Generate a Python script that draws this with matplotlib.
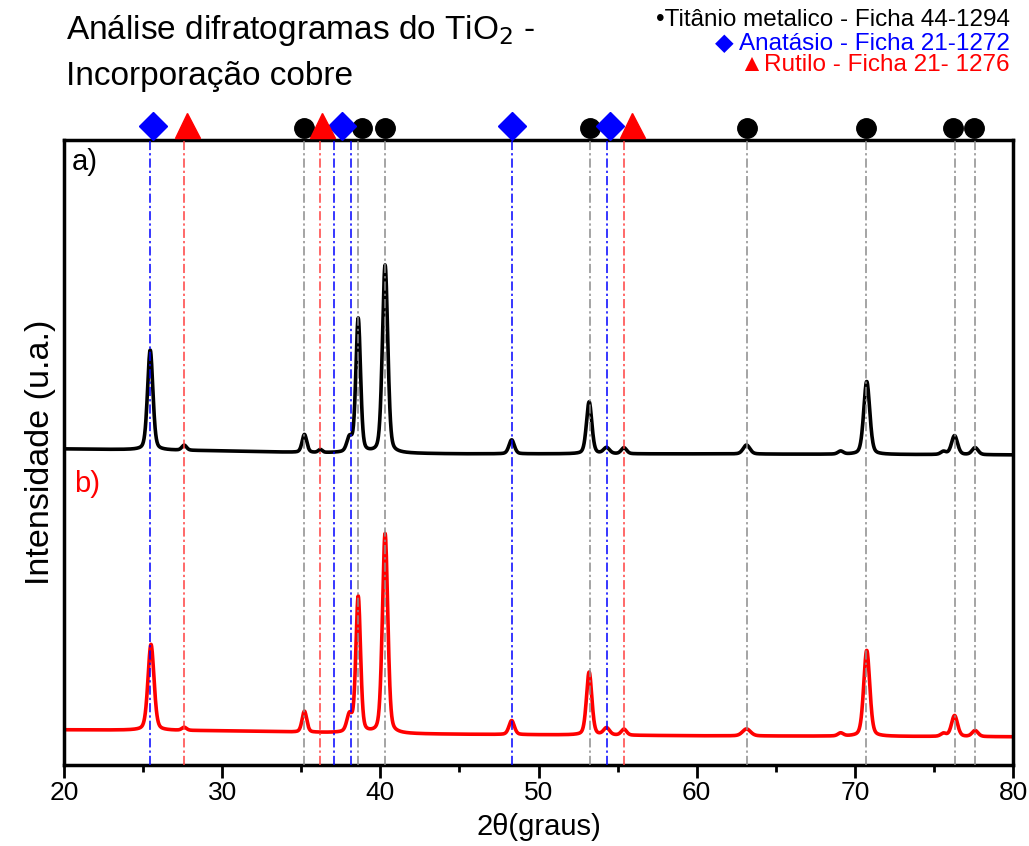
import numpy as np
import matplotlib
matplotlib.use("Agg")
import matplotlib.pyplot as plt
import matplotlib.transforms as mtransforms

plt.rcParams['font.family'] = ['Liberation Sans', 'DejaVu Sans']

# reference lines (2theta) for each phase card
ti_lines = [35.2, 38.6, 40.3, 53.25, 63.15, 70.7, 76.3, 77.6]
anatase_lines = [25.45, 37.1, 38.15, 48.35, 54.3]
rutile_lines = [27.6, 36.2, 55.4]

# marker positions above the frame
ti_marks = [35.2, 38.85, 40.3, 53.25, 63.15, 70.7, 76.2, 77.5]
anatase_marks = [25.6, 37.6, 48.3, 54.5]
rutile_marks = [27.75, 36.3, 55.9]

# pattern a) (black): baseline anchors and peaks (pos, height, fwhm)
a_base_x = [20, 30, 36, 45, 60, 80]
a_base_y = [316, 314, 312, 311, 311, 310]
a_pos = [25.45, 27.6, 35.2, 36.2, 38.05, 38.6, 40.3, 48.3, 53.2, 54.3, 55.4, 63.15, 69.1, 70.75, 75.6, 76.3, 77.6]
a_hgt = [100, 5, 18, 3, 14, 134, 188, 14, 52, 6, 6, 9, 3, 73, 3, 19, 7]
a_wid = [0.4, 0.35, 0.35, 0.3, 0.4, 0.35, 0.4, 0.4, 0.4, 0.45, 0.4, 0.5, 0.4, 0.45, 0.4, 0.45, 0.45]

# pattern b) (red)
b_base_x = [20, 30, 40, 60, 80]
b_base_y = [35, 34, 31, 29, 28]
b_pos = [25.5, 27.6, 35.2, 38.05, 38.6, 40.3, 48.3, 53.2, 54.3, 55.4, 63.15, 69.1, 70.75, 75.6, 76.3, 77.6]
b_hgt = [86, 3, 21, 17, 136, 200, 14, 63, 7, 6, 7, 3, 86, 3, 21, 6]
b_wid = [0.45, 0.35, 0.35, 0.4, 0.35, 0.4, 0.4, 0.4, 0.45, 0.4, 0.6, 0.4, 0.45, 0.4, 0.45, 0.45]


def pattern(x, bx, by, pos, hgt, wid):
    y = np.interp(x, bx, by)
    for p, h, w in zip(pos, hgt, wid):
        g = np.exp(-4 * np.log(2) * ((x - p) / w) ** 2)
        l = 1 / (1 + ((x - p) / (w / 2)) ** 2)
        y = y + h * (0.7 * g + 0.3 * l)
    return y


x = np.linspace(20, 80, 3001)
ya = pattern(x, a_base_x, a_base_y, a_pos, a_hgt, a_wid)
yb = pattern(x, b_base_x, b_base_y, b_pos, b_hgt, b_wid)

fig = plt.figure(figsize=(10.29, 8.46), dpi=100)
ax = fig.add_axes([0.0622, 0.096, 0.9223, 0.7385])

ax.plot(x, ya, color='black', lw=2.6, zorder=2)
ax.plot(x, yb, color='red', lw=2.6, zorder=2)

dash = (0, (6, 2, 1.5, 2))
for v in ti_lines:
    ax.axvline(v, color='0.55', lw=1.1, ls=dash, zorder=3)
for v in anatase_lines:
    ax.axvline(v, color='blue', lw=1.1, ls=dash, zorder=3)
for v in rutile_lines:
    ax.axvline(v, color='#ff4040', lw=1.1, ls=dash, zorder=3)

trans = mtransforms.blended_transform_factory(ax.transData, ax.transAxes)
ax.plot(ti_marks, [1.02] * len(ti_marks), 'o', color='black', ms=14,
        transform=trans, clip_on=False, zorder=5)
ax.plot(anatase_marks, [1.022] * len(anatase_marks), 'D', color='blue', ms=14,
        transform=trans, clip_on=False, zorder=5)
ax.plot(rutile_marks, [1.024] * len(rutile_marks), '^', color='red', ms=18,
        transform=trans, clip_on=False, zorder=5)

ax.set_xlim(20, 80)
ax.set_ylim(0, 625)
ax.set_xticks(range(20, 81, 10))
ax.set_xticks(range(25, 80, 10), minor=True)
ax.set_yticks([])
ax.tick_params(axis='x', which='major', direction='out', length=9, width=2, labelsize=19, pad=3)
ax.tick_params(axis='x', which='minor', direction='out', length=5, width=2)
for s in ax.spines.values():
    s.set_linewidth(2.5)

ax.set_xlabel('2\u03b8(graus)', fontsize=21, va='center')
ax.xaxis.set_label_coords(0.5, -0.099)
ax.set_ylabel('Intensidade (u.a.)', fontsize=24.5, labelpad=6)

ax.text(0.008, 0.965, 'a)', transform=ax.transAxes, fontsize=21, color='black', va='center')
ax.text(0.011, 0.45, 'b)', transform=ax.transAxes, fontsize=21, color='red', va='center')

fig.text(0.064, 0.9645, 'Análise difratogramas do TiO$_2$ -', fontsize=24, va='center')
fig.text(0.064, 0.909, 'Incorporação cobre', fontsize=24, va='center')

fig.text(0.9815, 0.976, '\u2022Titânio metalico - Ficha 44-1294', fontsize=17.5, ha='right', va='center', color='black')
fig.text(0.9815, 0.949, '\u25c6 Anatásio - Ficha 21-1272', fontsize=17.5, ha='right', va='center', color='blue')
fig.text(0.9815, 0.923, '\u25b2Rutilo - Ficha 21- 1276', fontsize=17.5, ha='right', va='center', color='red')

fig.savefig('out.png', dpi=100)
